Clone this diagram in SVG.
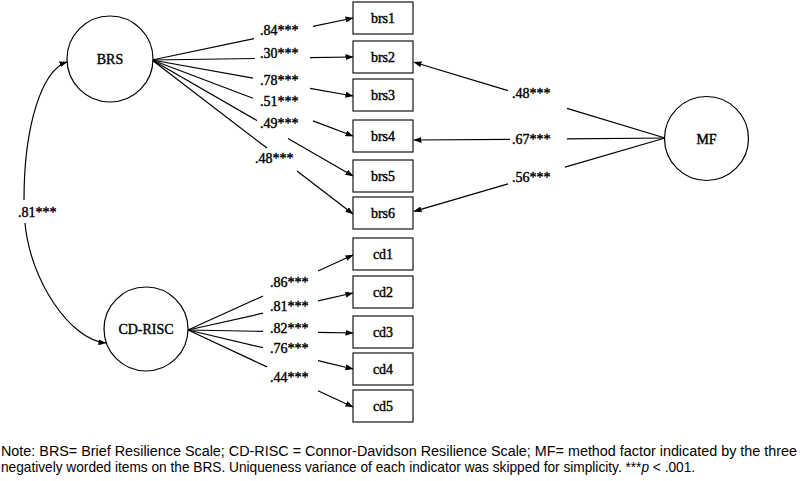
<svg xmlns="http://www.w3.org/2000/svg" width="800" height="481" viewBox="0 0 800 481">
<defs>
<marker id="ah" markerUnits="userSpaceOnUse" markerWidth="8" markerHeight="6" refX="7.5" refY="3" orient="auto">
<path d="M0,0 L8,3 L0,6 z" fill="#000"/>
</marker>
<style>
.lat{fill:#fff;stroke:#000;stroke-width:1.2}
.box{fill:#fff;stroke:#000;stroke-width:1.1}
.lbl{font-family:"Liberation Serif","Times New Roman",serif;font-size:14px;fill:#000;stroke:#000;stroke-width:0.4}
.c{text-anchor:middle}
.ln{stroke:#000;stroke-width:1.2;fill:none}
.arr{marker-end:url(#ah)}
.note{font-family:"Liberation Sans",Arial,sans-serif;font-size:14px;fill:#000}
</style>
</defs>
<rect width="800" height="481" fill="#fff"/>

<g id="connectors">
<line class="ln" x1="152" y1="60" x2="254" y2="38.7"/>
<line class="ln arr" x1="313" y1="26.4" x2="353" y2="18"/>
<line class="ln" x1="152" y1="60" x2="255" y2="58.5"/>
<line class="ln arr" x1="310" y1="57.6" x2="353" y2="57"/>
<line class="ln" x1="152" y1="60" x2="253" y2="78.1"/>
<line class="ln arr" x1="310" y1="88.3" x2="353" y2="96"/>
<line class="ln" x1="152" y1="60" x2="253" y2="98.2"/>
<line class="ln arr" x1="313" y1="120.9" x2="353" y2="136"/>
<line class="ln" x1="152" y1="60" x2="257" y2="120.6"/>
<line class="ln arr" x1="288" y1="138.5" x2="353" y2="176"/>
<line class="ln" x1="152" y1="60" x2="267" y2="148.1"/>
<line class="ln arr" x1="297" y1="171.1" x2="353" y2="214"/>
<line class="ln" x1="665" y1="138" x2="567" y2="108.4"/>
<line class="ln arr" x1="508" y1="90.6" x2="414" y2="62.2"/>
<line class="ln" x1="665" y1="138" x2="567" y2="138.8"/>
<line class="ln arr" x1="510" y1="139.3" x2="414" y2="140"/>
<line class="ln" x1="665" y1="138" x2="565" y2="167.2"/>
<line class="ln arr" x1="508" y1="183.9" x2="414" y2="211.4"/>
<line class="ln" x1="188" y1="330" x2="263" y2="296"/>
<line class="ln arr" x1="318" y1="271" x2="353" y2="255"/>
<line class="ln" x1="188" y1="330" x2="263" y2="313.2"/>
<line class="ln arr" x1="318" y1="300.9" x2="353" y2="293"/>
<line class="ln" x1="188" y1="330" x2="263" y2="331.4"/>
<line class="ln arr" x1="318" y1="332.4" x2="353" y2="333"/>
<line class="ln" x1="188" y1="330" x2="263" y2="347.7"/>
<line class="ln arr" x1="318" y1="360.7" x2="353" y2="369"/>
<line class="ln" x1="188" y1="330" x2="267" y2="366.9"/>
<line class="ln arr" x1="318" y1="390.7" x2="353" y2="407"/>
<path class="ln arr" d="M24,200 C24,125 42,70 67,62"/>
<path class="ln arr" d="M25,223 C30,280 70,340 106,343"/>
<text class="lbl" x="260" y="35">.84***</text>
<text class="lbl" x="260" y="58">.30***</text>
<text class="lbl" x="260" y="85">.78***</text>
<text class="lbl" x="260" y="106">.51***</text>
<text class="lbl" x="260" y="128">.49***</text>
<text class="lbl" x="255" y="163">.48***</text>
<text class="lbl" x="512" y="98">.48***</text>
<text class="lbl" x="512" y="144">.67***</text>
<text class="lbl" x="512" y="182">.56***</text>
<text class="lbl" x="270" y="287">.86***</text>
<text class="lbl" x="270" y="311">.81***</text>
<text class="lbl" x="270" y="333">.82***</text>
<text class="lbl" x="270" y="353">.76***</text>
<text class="lbl" x="270" y="382">.44***</text>
<text class="lbl" x="18" y="217">.81***</text>
</g>

<g id="BRS"><circle class="lat" cx="110" cy="59" r="43"/><text class="lbl c" x="110" y="64">BRS</text></g>
<g id="CD-RISC"><circle class="lat" cx="146" cy="329" r="42"/><text class="lbl c" x="146" y="334">CD-RISC</text></g>
<g id="MF"><circle class="lat" cx="706.5" cy="138.5" r="42"/><text class="lbl c" x="706.5" y="143.5">MF</text></g>
<g id="brs1"><rect class="box" x="353" y="2" width="60" height="32"/><text class="lbl c" x="383" y="23">brs1</text></g>
<g id="brs2"><rect class="box" x="353" y="41" width="60" height="32"/><text class="lbl c" x="383" y="62">brs2</text></g>
<g id="brs3"><rect class="box" x="353" y="79" width="60" height="32"/><text class="lbl c" x="383" y="100">brs3</text></g>
<g id="brs4"><rect class="box" x="353" y="120" width="60" height="32"/><text class="lbl c" x="383" y="141">brs4</text></g>
<g id="brs5"><rect class="box" x="353" y="160" width="60" height="32"/><text class="lbl c" x="383" y="181">brs5</text></g>
<g id="brs6"><rect class="box" x="353" y="197" width="60" height="32"/><text class="lbl c" x="383" y="218">brs6</text></g>
<g id="cd1"><rect class="box" x="353" y="238" width="60" height="32"/><text class="lbl c" x="383" y="259">cd1</text></g>
<g id="cd2"><rect class="box" x="353" y="276" width="60" height="32"/><text class="lbl c" x="383" y="297">cd2</text></g>
<g id="cd3"><rect class="box" x="353" y="316" width="60" height="32"/><text class="lbl c" x="383" y="337">cd3</text></g>
<g id="cd4"><rect class="box" x="353" y="353" width="60" height="32"/><text class="lbl c" x="383" y="374">cd4</text></g>
<g id="cd5"><rect class="box" x="353" y="390" width="60" height="32"/><text class="lbl c" x="383" y="411">cd5</text></g>

<g id="note">
<text class="note" x="1" y="456" textLength="796" lengthAdjust="spacingAndGlyphs">Note: BRS= Brief Resilience Scale; CD-RISC = Connor-Davidson Resilience Scale; MF= method factor indicated by the three</text>
<text class="note" transform="translate(1 472) scale(0.978 1)" x="0" y="0">negatively worded items on the BRS. Uniqueness variance of each indicator was skipped for simplicity. ***<tspan font-style="italic">p</tspan> &lt; .001.</text>
</g>
</svg>
